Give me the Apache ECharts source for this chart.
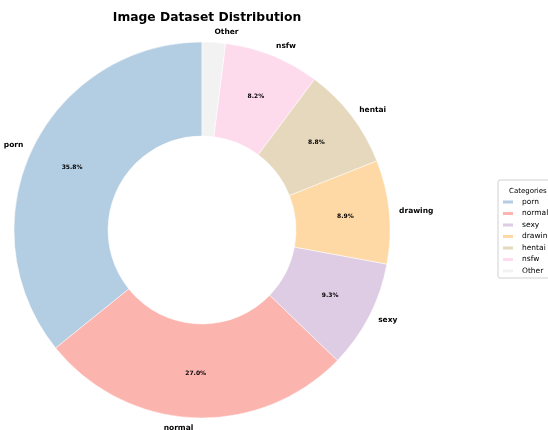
<!DOCTYPE html>
<html>
<head>
<meta charset="utf-8">
<script src="https://cdn.jsdelivr.net/npm/echarts@6/dist/echarts.min.js"></script>
<style>
  html, body { margin: 0; padding: 0; background: #fff; }
  #chart { width: 548px; height: 430px; }
</style>
</head>
<body>
<div id="chart"></div>
<script>
// data (percent of dataset)
var categories = ['porn', 'normal', 'sexy', 'drawing', 'hentai', 'nsfw', 'Other'];
var shares = [35.8, 27.0, 9.3, 8.9, 8.8, 8.2, 2.0];
var colors = ['#b3cde3', '#fbb4ae', '#decbe4', '#fed9a6', '#e5d8bd', '#fddaec', '#f2f2f2'];

var font = 'DejaVu Sans';
var cx = 202, cy = 230;

var chart = echarts.init(document.getElementById('chart'));

var mainData = categories.map(function (name, i) {
  return {
    name: name,
    value: shares[i],
    itemStyle: { color: colors[i] },
    label: { show: shares[i] >= 3 }
  };
});

var outerData = categories.map(function (name, i) {
  return { name: name, value: shares[i] };
});

var option = {
  animation: false,
  title: [{
    text: 'Image Dataset Distribution',
    left: cx, top: 7,
    textAlign: 'center',
    textStyle: { fontFamily: font, fontWeight: 'bold', fontSize: 12.3, color: '#000' }
  }, {
    text: 'Categories',
    left: 504, top: 183,
    textStyle: { fontFamily: font, fontWeight: 'normal', fontSize: 7, color: '#000' }
  }],
  legend: {
    orient: 'vertical',
    left: 498, top: 180,
    width: 80,
    padding: [18, 20, 3, 3],
    itemGap: 3.5,
    itemWidth: 12, itemHeight: 5,
    icon: 'rect',
    borderColor: '#d0d0d0', borderWidth: 1, borderRadius: 2,
    textStyle: { fontFamily: font, fontSize: 7.5, color: '#000', padding: [0, 0, 0, 3] },
    data: categories
  },
  series: [{
    name: 'main',
    type: 'pie',
    center: [cx, cy],
    radius: [94, 188],
    startAngle: 90,
    clockwise: false,
    silent: true,
    itemStyle: { borderColor: '#fff', borderWidth: 0.5 },
    label: {
      position: 'inside',
      formatter: function (p) { return p.value.toFixed(1) + '%'; },
      fontFamily: font, fontWeight: 'bold', fontSize: 6, color: '#000'
    },
    labelLine: { show: false },
    data: mainData
  }, {
    name: 'names',
    type: 'pie',
    center: [cx, cy],
    radius: [0, 198],
    startAngle: 90,
    clockwise: false,
    silent: true,
    itemStyle: { color: 'rgba(0,0,0,0)', borderWidth: 0 },
    label: {
      position: 'outside',
      formatter: '{b}',
      fontFamily: font, fontWeight: 'bold', fontSize: 7.5, color: '#000',
      distanceToLabelLine: 0
    },
    labelLine: { show: false, length: 0, length2: 0 },
    avoidLabelOverlap: false,
    data: outerData
  }]
};

chart.setOption(option);
</script>
</body>
</html>
